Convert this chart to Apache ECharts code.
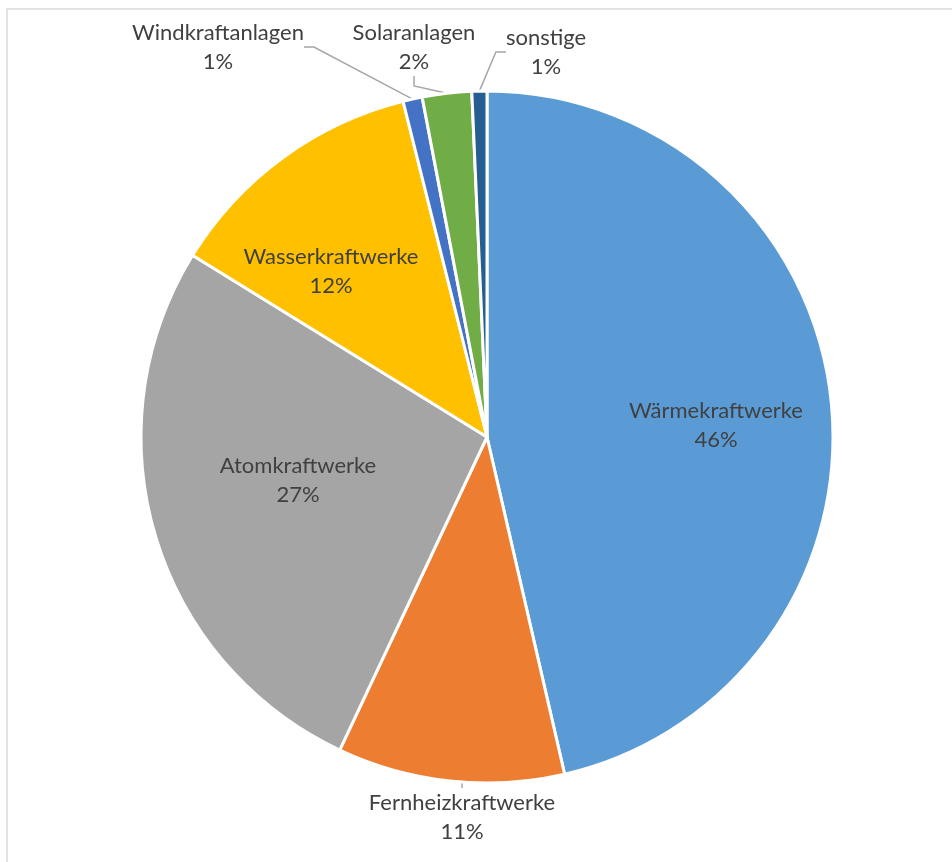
<!DOCTYPE html>
<html>
<head>
<meta charset="utf-8">
<script src="https://cdn.jsdelivr.net/npm/echarts@6/dist/echarts.min.js"></script>
<style>
html,body{margin:0;padding:0;background:#fff;}
#frame{position:absolute;left:6px;top:8px;width:946px;height:854px;border-left:2px solid #E2E2E2;border-top:2px solid #E2E2E2;}
#main{position:absolute;left:0;top:0;width:952px;height:862px;}
</style>
</head>
<body>
<div id="frame"></div>
<div id="main"></div>
<script>
const categories = ['Wärmekraftwerke','Fernheizkraftwerke','Atomkraftwerke','Wasserkraftwerke','Windkraftanlagen','Solaranlagen','sonstige'];
const values = [46.4, 10.6, 26.8, 12.3, 0.9, 2.3, 0.7];
const colors = ['#5B9BD5','#ED7D31','#A5A5A5','#FFC000','#4472C4','#70AD47','#255E91'];
const outsideLabel = [false, true, false, false, true, true, true];
// label block centres (layout only)
const labelCentres = [[716,425],[462,817],[298,480],[331,271],[218,47],[414,47],[546,52]];

const chart = echarts.init(document.getElementById('main'), null, {renderer:'canvas'});
const data = categories.map((c,i)=>({
  name:c, value:values[i],
  itemStyle:{color:colors[i]},
  label:{position: outsideLabel[i] ? 'outside' : 'inside'},
  labelLine:{show: outsideLabel[i]}
}));
chart.setOption({
  animation:false,
  series:[{
    type:'pie',
    center:[487,437],
    radius:[0,346],
    startAngle:90,
    clockwise:true,
    percentPrecision:0,
    itemStyle:{borderColor:'#fff',borderWidth:3},
    label:{
      show:true,
      formatter:'{b}\n{d}%',
      fontFamily:'Lato',
      fontSize:22,
      lineHeight:29,
      color:'#404040',
      align:'center'
    },
    labelLine:{length:20,length2:10,lineStyle:{color:'#A6A6A6',width:1.5}},
    labelLayout:function(p){
      const c = labelCentres[p.dataIndex];
      return {x:c[0], y:c[1], align:'center', verticalAlign:'middle'};
    },
    data:data
  }]
});
</script>
</body>
</html>
